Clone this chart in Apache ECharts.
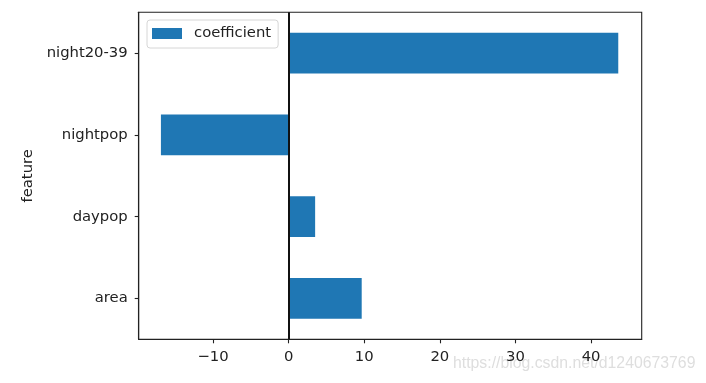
<!DOCTYPE html>
<html>
<head>
<meta charset="utf-8">
<script src="https://cdn.jsdelivr.net/npm/echarts@6/dist/echarts.min.js"></script>
<style>html,body{margin:0;padding:0;background:#fff;}#c{width:706px;height:383px;}</style>
</head>
<body>
<div id="c"></div>
<script>
var categories = ['area', 'daypop', 'nightpop', 'night20-39'];
var coefficient = [9.66, 3.5, -16.9, 43.6];
var xTicks = [-10, 0, 10, 20, 30, 40];
var seriesName = 'coefficient';
var yAxisName = 'feature';
var watermark = 'https://blog.csdn.net/d1240673769';

var FONT = 'DejaVu Sans';
var chart = echarts.init(document.getElementById('c'), null, {renderer: 'canvas'});
chart.setOption({
  animation: false,
  backgroundColor: '#fff',
  grid: {left: 138.7, right: 64.3, top: 12.3, bottom: 43.7, show: true, borderColor: '#222', borderWidth: 1.1, backgroundColor: 'transparent'},
  legend: {
    data: [seriesName], left: 147, top: 20, orient: 'vertical',
    itemWidth: 30, itemHeight: 11, icon: 'rect',
    padding: [6, 7, 7, 5],
    backgroundColor: '#fff', borderColor: '#d6d6d6', borderWidth: 1, borderRadius: 3,
    textStyle: {fontFamily: FONT, fontSize: 14.8, color: '#222', padding: [0, 0, 0, 7]}
  },
  xAxis: {
    type: 'value', min: -19.84, max: 46.7,
    splitLine: {show: false},
    axisLine: {show: true, onZero: false, lineStyle: {color: '#222', width: 1.1}},
    axisTick: {show: true, length: 4, customValues: xTicks, lineStyle: {color: '#222', width: 1.1}},
    axisLabel: {customValues: xTicks, fontFamily: FONT, fontSize: 14.8, color: '#222', margin: 10,
      formatter: function (v) { return String(v).replace('-', '\u2212'); }}
  },
  yAxis: {
    type: 'category', data: categories, boundaryGap: true,
    name: yAxisName, nameLocation: 'middle', nameRotate: 90, nameGap: 102,
    nameTextStyle: {fontFamily: FONT, fontSize: 14.8, color: '#222'},
    axisLine: {show: true, onZero: false, lineStyle: {color: '#222', width: 1.1}},
    axisTick: {show: true, alignWithLabel: true, length: 4, lineStyle: {color: '#222', width: 1.1}},
    axisLabel: {fontFamily: FONT, fontSize: 14.8, color: '#222', margin: 11}
  },
  series: [{
    name: seriesName, type: 'bar', data: coefficient, barWidth: '50%',
    itemStyle: {color: '#1f77b4'},
    markLine: {
      silent: true, symbol: 'none', label: {show: false},
      lineStyle: {color: '#111', width: 2, type: 'solid'},
      data: [{xAxis: 0}]
    }
  }],
  graphic: [{
    type: 'text', left: 453, top: 356, silent: true,
    style: {text: watermark, font: '15.8px "Liberation Sans", Arial, sans-serif', fill: '#dedede'}
  }]
});
</script>
</body>
</html>
